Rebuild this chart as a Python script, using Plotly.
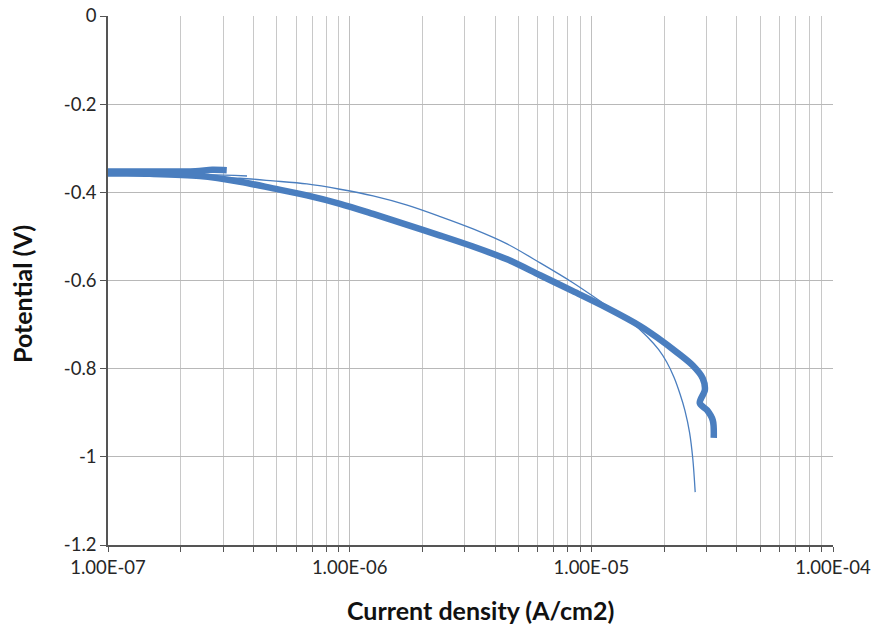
import plotly.graph_objects as go

# Thick curve (scan 1): current density (A/cm2), potential (V)
thick_current = [3.1e-7, 2.7e-7, 2.3e-7, 1.5e-7, 1.0e-7, 5.0e-8, 1.0e-7, 1.49e-7, 2.4e-7,
                 3.52e-7, 4.82e-7, 6.65e-7, 9.12e-7, 1.25e-6, 1.73e-6, 2.37e-6, 3.24e-6,
                 4.48e-6, 6.14e-6, 8.39e-6, 1.16e-5, 1.59e-5, 1.87e-5, 2.26e-5, 2.63e-5,
                 2.89e-5, 2.95e-5, 2.81e-5, 3.01e-5, 3.18e-5, 3.21e-5]
thick_potential = [-0.350, -0.349, -0.352, -0.353, -0.353, -0.353, -0.357, -0.358, -0.363,
                   -0.376, -0.391, -0.407, -0.426, -0.449, -0.474, -0.498, -0.523,
                   -0.552, -0.588, -0.624, -0.662, -0.703, -0.729, -0.763, -0.793,
                   -0.822, -0.848, -0.878, -0.894, -0.917, -0.957]

# Thin curve (scan 2)
thin_current = [3.76e-7, 2.6e-7, 1.55e-7, 1.0e-7, 5.0e-8, 1.0e-7, 2.0e-7, 3.52e-7, 4.82e-7,
                6.65e-7, 9.12e-7, 1.25e-6, 1.73e-6, 2.37e-6, 3.24e-6, 4.48e-6, 6.14e-6,
                8.39e-6, 1.16e-5, 1.45e-5, 1.70e-5, 1.90e-5, 2.05e-5, 2.20e-5, 2.33e-5,
                2.44e-5, 2.55e-5, 2.63e-5, 2.69e-5]
thin_potential = [-0.363, -0.360, -0.358, -0.357, -0.356, -0.359, -0.363, -0.368, -0.374,
                  -0.381, -0.393, -0.408, -0.429, -0.455, -0.483, -0.517, -0.560,
                  -0.605, -0.657, -0.693, -0.727, -0.757, -0.785, -0.820, -0.858,
                  -0.895, -0.945, -1.005, -1.080]

x_tickvals = [1e-7, 1e-6, 1e-5, 1e-4]
x_ticktext = ["1.00E-07", "1.00E-06", "1.00E-05", "1.00E-04"]
y_tickvals = [0, -0.2, -0.4, -0.6, -0.8, -1.0, -1.2]
y_ticktext = ["0", "-0.2", "-0.4", "-0.6", "-0.8", "-1", "-1.2"]
x_title = "Current density (A/cm2)"
y_title = "Potential (V)"

minor_vals = [m * 10.0 ** e for e in (-7, -6, -5) for m in range(2, 10)]

color = "#4A7EBF"
fig = go.Figure()
fig.add_trace(go.Scatter(x=thin_current, y=thin_potential, mode="lines",
                         line=dict(color=color, width=1.3, shape="spline", smoothing=0.9),
                         showlegend=False))
fig.add_trace(go.Scatter(x=thick_current, y=thick_potential, mode="lines",
                         line=dict(color=color, width=6.5, shape="spline", smoothing=0.9),
                         showlegend=False))

fig.update_layout(
    width=877, height=626,
    margin=dict(l=108, r=44, t=16, b=81),
    paper_bgcolor="white", plot_bgcolor="white",
    font=dict(family="Lato, Open Sans, sans-serif", size=18, color="#262626"),
    annotations=[
        dict(text="<b>" + x_title + "</b>", xref="paper", yref="paper",
             x=0.514, y=-0.1229, xanchor="center", yanchor="middle", showarrow=False,
             font=dict(size=25, color="#111111")),
        dict(text="<b>" + y_title + "</b>", xref="paper", yref="paper",
             x=-0.1186, y=0.4745, xanchor="center", yanchor="middle", showarrow=False,
             textangle=-90, font=dict(size=25, color="#111111")),
    ],
)
fig.update_xaxes(
    type="log", range=[-7, -4], automargin=False,
    tickvals=x_tickvals, ticktext=x_ticktext,
    showgrid=True, gridcolor="#BFBFBF", gridwidth=1,
    showline=True, linecolor="#555555", linewidth=1.5,
    ticks="outside", ticklen=5, tickcolor="#555555",
    minor=dict(tickmode="array", tickvals=minor_vals, showgrid=True,
               gridcolor="#C8C8C8", gridwidth=1, ticks="outside", ticklen=5,
               tickcolor="#555555"),
    zeroline=False,
    tickfont=dict(size=18.5, color="#262626"),
)
fig.update_yaxes(
    range=[-1.2, 0], automargin=False,
    tickvals=y_tickvals, ticktext=y_ticktext,
    showgrid=True, gridcolor="#B8B8B8", gridwidth=1,
    showline=True, linecolor="#555555", linewidth=1.5,
    ticks="outside", ticklen=6, tickcolor="#555555",
    zeroline=False,
    tickfont=dict(size=18.5, color="#262626"),
)

fig.write_html("out.html", config={"displayModeBar": False},
               post_script="document.body.style.margin='0';document.body.style.overflow='hidden';")
